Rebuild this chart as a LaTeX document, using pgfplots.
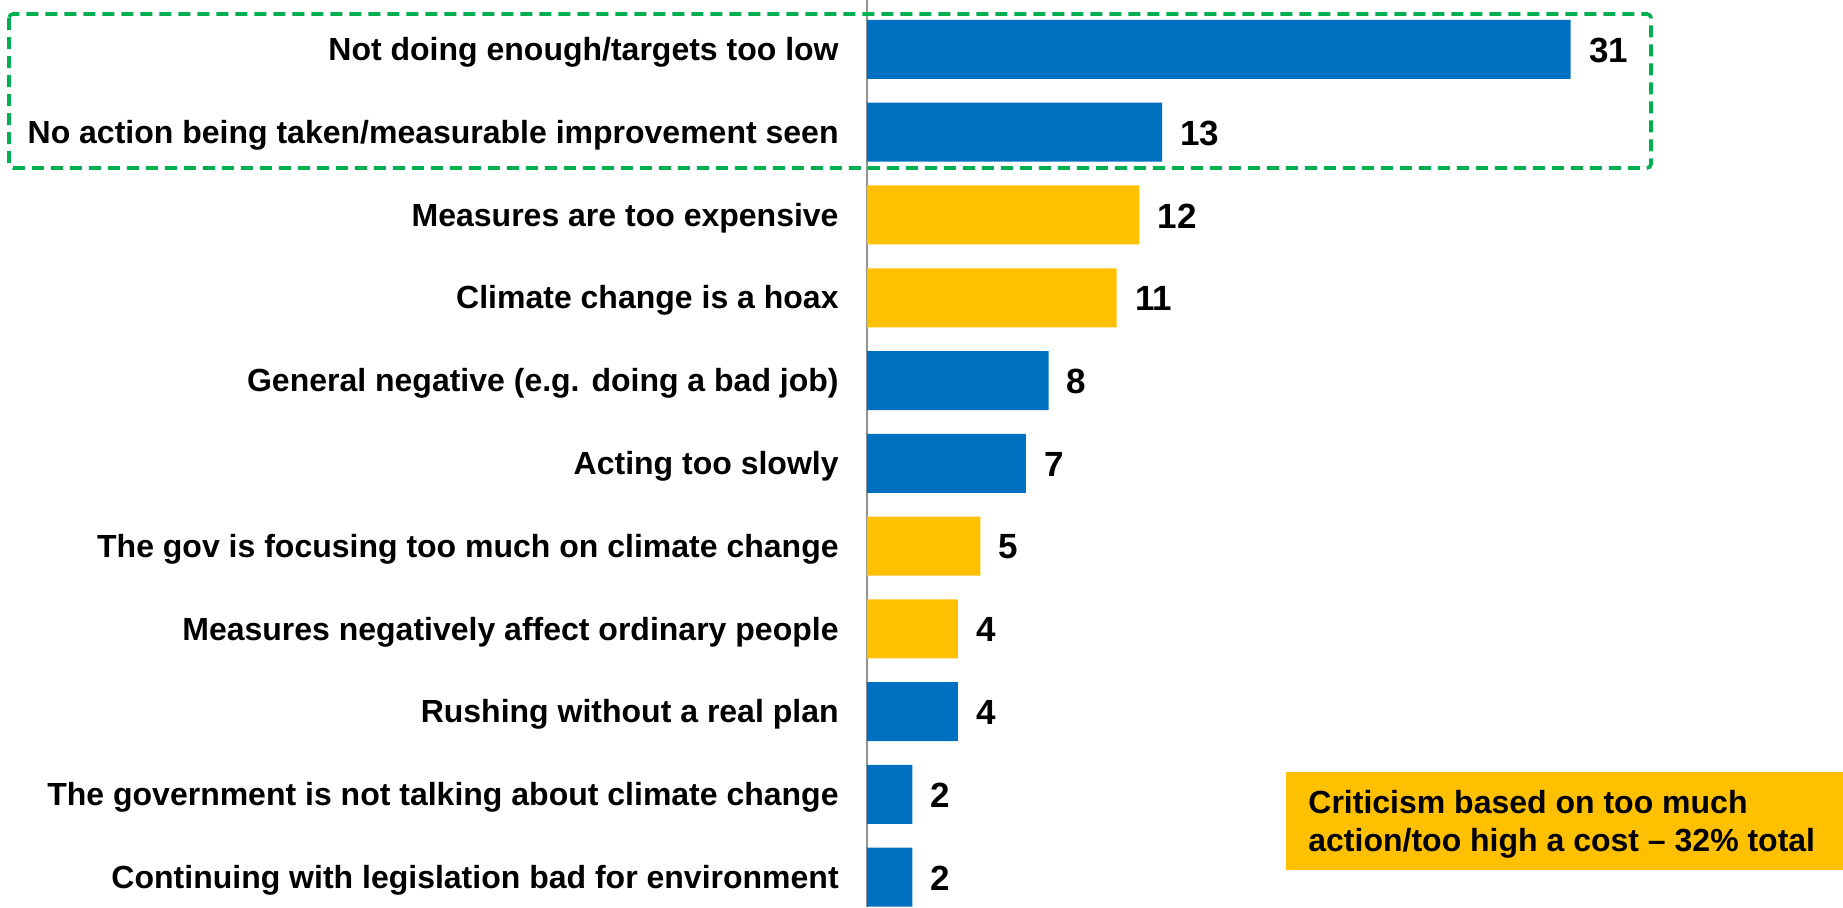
\documentclass[border=0pt]{standalone}
\usepackage{pgfplots}
\pgfplotsset{compat=1.18}
\usepackage{fontspec}
\setmainfont{Liberation Sans}
\definecolor{cblue}{HTML}{0070C0}
\definecolor{cyellow}{HTML}{FFC000}
\definecolor{cgreen}{HTML}{00B050}
\begin{document}
\begin{tikzpicture}[font=\bfseries\fontsize{16}{19}\selectfont]
\path[use as bounding box] (0,0) rectangle (921.5pt,-453.5pt);
\begin{axis}[
  at={(433.5pt,0pt)}, anchor=north west,
  scale only axis,
  width=397.25pt, height=453.5pt,
  xmin=0, xmax=35,
  ymin=-0.597, ymax=10.36,
  y dir=reverse,
  xbar, bar width=29.5pt,
  axis x line=none,
  axis y line=left,
  y axis line style={-, draw=gray!85, line width=1pt},
  ytick={0,...,10},
  major tick length=0pt,
  /pgf/number format/assume math mode=true,
  yticklabels={
    {Not doing enough/targets too low},
    {No action being taken/measurable improvement seen},
    {Measures are too expensive},
    {Climate change is a hoax},
    {General negative (e.g. doing a bad job)},
    {Acting too slowly},
    {The gov is focusing too much on climate change},
    {Measures negatively affect ordinary people},
    {Rushing without a real plan},
    {The government is not talking about climate change},
    {Continuing with legislation bad for environment}},
  yticklabel style={anchor=east, inner sep=0pt, xshift=-14pt, yshift=-1.5pt, font=\bfseries\fontsize{16}{19}\selectfont},
  nodes near coords,
  every node near coord/.append style={anchor=west, inner sep=0pt, xshift=9pt, yshift=-0.5pt, font=\bfseries\fontsize{17.5}{20}\selectfont, text=black},
  clip=false,
]
\addplot[fill=cblue, draw=none, bar shift=0pt] coordinates {
  (31,0) (13,1) (8,4) (7,5) (4,8) (2,9) (2,10)};
\addplot[fill=cyellow, draw=none, bar shift=0pt] coordinates {
  (12,2) (11,3) (5,6) (4,7)};
\end{axis}
\draw[cgreen, line width=1.8pt, dash pattern=on 6pt off 3.5pt, rounded corners=2pt]
  (4.5pt,-7pt) rectangle (825.5pt,-84pt);
\fill[cyellow] (643pt,-386pt) rectangle (921.5pt,-435pt);
\node[anchor=west, align=left, inner sep=0pt, font=\bfseries\fontsize{16}{18.8}\selectfont] at (654pt,-412pt)
  {Criticism based on too much\\action/too high a cost -- 32\% total};
\end{tikzpicture}
\end{document}
